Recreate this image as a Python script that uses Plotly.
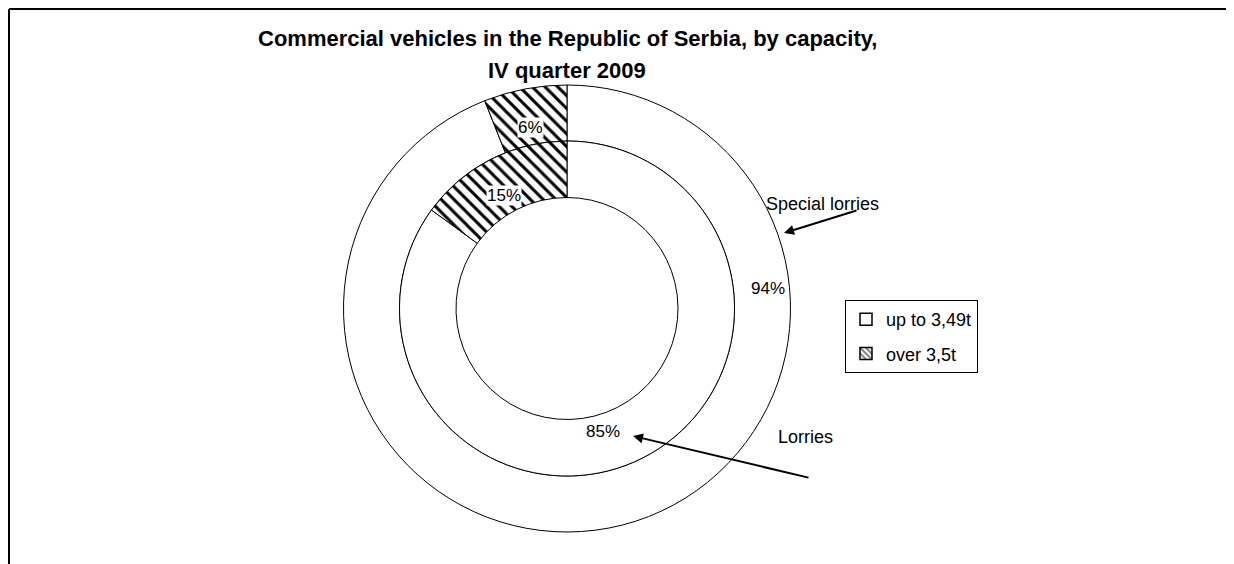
import math
import plotly.graph_objects as go

# ---- data ----
categories = ["up to 3,49t", "over 3,5t"]
special_lorries = [94, 6]   # outer ring
lorries = [85, 15]          # inner ring
ring_names = ["Special lorries", "Lorries"]
title_lines = ["Commercial vehicles in the Republic of Serbia, by capacity,", "IV quarter 2009"]

OFF = 8                       # page body margin of the html page
W, H = 1234 - OFF, 564 - OFF
FONT = "Liberation Sans, Arial, sans-serif"

# geometry (screen pixels)
cx, cy = 567, 308.5
r_outer, r_mid, r_hole = 223.5, 167.5, 111


def px(x):
    return (x - OFF) / W


def py(y):
    return 1 - (y - OFF) / H


def domain(r):
    return dict(x=[px(cx - r), px(cx + r)], y=[py(cy + r), py(cy - r)])


shapes_pat = ["", "\\"]
line = dict(color="black", width=1)


def pattern():
    return dict(shape=shapes_pat, fgcolor="black", bgcolor="white", size=9, solidity=0.33)


fig = go.Figure()
fig.add_trace(go.Pie(
    labels=categories, values=special_lorries, name=ring_names[0],
    hole=r_mid / r_outer, domain=domain(r_outer), sort=False, direction="clockwise",
    rotation=0, textinfo="none", hoverinfo="label+percent", showlegend=False,
    marker=dict(colors=["white", "white"], line=line, pattern=pattern()),
))
fig.add_trace(go.Pie(
    labels=categories, values=lorries, name=ring_names[1],
    hole=r_hole / r_mid, domain=domain(r_mid), sort=False, direction="clockwise",
    rotation=0, textinfo="none", hoverinfo="label+percent", showlegend=False,
    marker=dict(colors=["white", "white"], line=line, pattern=pattern()),
))
# legend entries (one per category)
for i, cat in enumerate(categories):
    fig.add_trace(go.Bar(
        x=[None], y=[None], name=cat, legendgroup=cat, showlegend=True,
        marker=dict(color="white", line=dict(color="black", width=1.5),
                    pattern=dict(shape=shapes_pat[i], fgcolor="black", bgcolor="white",
                                 size=5, solidity=0.5)),
    ))

annotations = []

# title, two centred lines
for txt, yc in zip(title_lines, (39, 71)):
    annotations.append(dict(x=px(567), y=py(yc), xref="paper", yref="paper", text=txt,
                            showarrow=False, xanchor="center", yanchor="middle",
                            font=dict(family=FONT, size=22, color="black", weight="bold")))


def mid_label(values, idx, r_in, r_out):
    tot = sum(values)
    start = sum(values[:idx]) / tot * 360
    end = sum(values[:idx + 1]) / tot * 360
    a = math.radians((start + end) / 2)
    rr = (r_in + r_out) / 2
    return cx + rr * math.sin(a), cy - rr * math.cos(a)


def pct(values, idx):
    return f"{round(values[idx] / sum(values) * 100)}%"


# hatched slice labels (computed from slice mid-angle)
for vals, (ri, ro) in ((special_lorries, (r_mid, r_outer)), (lorries, (r_hole, r_mid))):
    x, y = mid_label(vals, 1, ri, ro)
    annotations.append(dict(x=px(x), y=py(y + 1), xref="paper", yref="paper", text=pct(vals, 1),
                            showarrow=False, bgcolor="white", borderpad=0,
                            font=dict(family=FONT, size=17, color="black")))
# large slice labels
annotations.append(dict(x=px(768), y=py(288), xref="paper", yref="paper", text=pct(special_lorries, 0),
                        showarrow=False, font=dict(family=FONT, size=17, color="black")))
annotations.append(dict(x=px(603), y=py(443), xref="paper", yref="paper", text=pct(lorries, 0),
                        showarrow=False, font=dict(family=FONT, size=17, color="black")))

# ring names with arrows
annotations.append(dict(x=px(822), y=py(192), xref="paper", yref="paper", text=ring_names[0],
                        showarrow=False, font=dict(family=FONT, size=18, color="black")))
annotations.append(dict(x=px(805), y=py(449), xref="paper", yref="paper", text=ring_names[1],
                        showarrow=False, font=dict(family=FONT, size=18, color="black")))
annotations.append(dict(x=px(784), y=py(233), xref="paper", yref="paper", text="",
                        showarrow=True, ax=74, ay=-23, arrowhead=2, arrowsize=1, arrowwidth=2,
                        arrowcolor="black", standoff=0, startstandoff=0))
annotations.append(dict(x=px(633), y=py(436), xref="paper", yref="paper", text="",
                        showarrow=True, ax=177, ay=42, arrowhead=2, arrowsize=1, arrowwidth=2,
                        arrowcolor="black", standoff=0, startstandoff=0))

# chart frame (left and top edges)
shapes = [
    dict(type="line", xref="paper", yref="paper", x0=px(9), x1=1.02, y0=py(9), y1=py(9),
         line=dict(color="black", width=2)),
    dict(type="line", xref="paper", yref="paper", x0=px(9), x1=px(9), y0=py(9), y1=-0.05,
         line=dict(color="black", width=2)),
]

fig.update_layout(
    width=W, height=H,
    margin=dict(l=0, r=0, t=0, b=0),
    paper_bgcolor="white", plot_bgcolor="white",
    xaxis=dict(visible=False), yaxis=dict(visible=False),
    legend=dict(x=px(845), y=py(300), xanchor="left", yanchor="top",
                bordercolor="black", borderwidth=1, bgcolor="white", tracegroupgap=8,
                font=dict(family=FONT, size=18, color="black")),
    annotations=annotations,
    shapes=shapes,
    showlegend=True,
)

fig.write_html("out.html")
